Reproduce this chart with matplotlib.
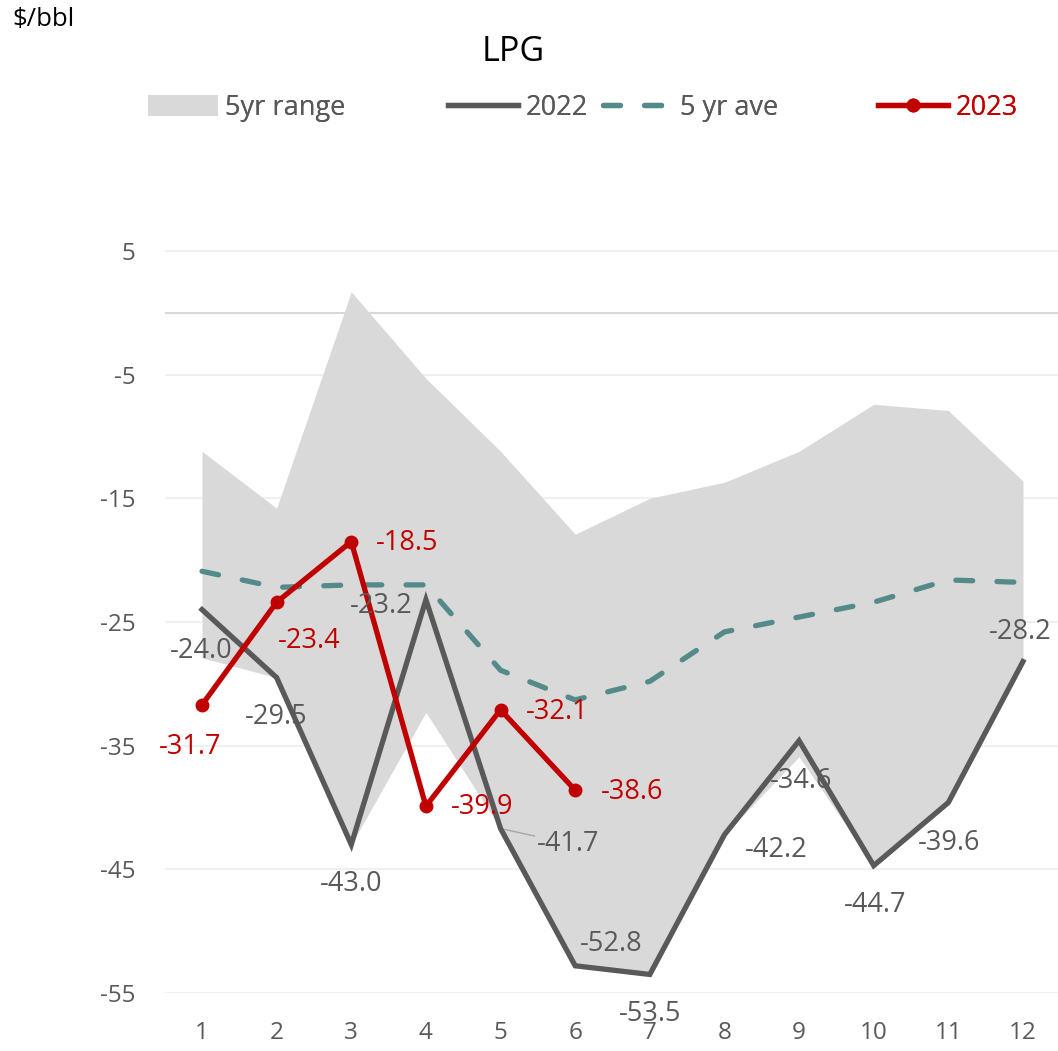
import matplotlib
matplotlib.use("Agg")
import matplotlib.pyplot as plt
from matplotlib.lines import Line2D
from matplotlib.patches import Patch

plt.rcParams['font.family'] = ['Open Sans', 'DejaVu Sans']
plt.rcParams['axes.unicode_minus'] = False

# Monthly LPG crack, $/bbl
months = list(range(1, 13))
month_labels = [str(m) for m in months]
range_high = [-11.2, -15.8, 1.7, -5.3, -11.2, -17.9, -15.0, -13.7, -11.2, -7.4, -7.9, -13.6]
range_low = [-27.9, -29.5, -43.0, -32.3, -41.7, -52.8, -53.5, -42.2, -35.9, -44.7, -39.6, -28.2]
avg_5yr = [-20.9, -22.2, -22.0, -22.0, -28.9, -31.3, -29.8, -25.8, -24.6, -23.4, -21.6, -21.8]
y2022 = [-24.0, -29.5, -43.0, -23.2, -41.7, -52.8, -53.5, -42.2, -34.6, -44.7, -39.6, -28.2]
y2023 = [-31.7, -23.4, -18.5, -39.9, -32.1, -38.6]
y_ticks = [-55, -45, -35, -25, -15, -5, 5]

GREY_TXT = '#595959'
C2022 = '#595959'
CAVG = '#558A8A'
C2023 = '#C00000'
CFILL = '#D9D9D9'

W, H = 1058, 1051
fig = plt.figure(figsize=(W / 100, H / 100), dpi=100)
ax_left, ax_right = 164.7, 1060.3
ax_top, ax_bot = 164.4, 993
ax = fig.add_axes([ax_left / W, 1 - ax_bot / H, (ax_right - ax_left) / W, (ax_bot - ax_top) / H])

ax.set_xlim(0.5, 12.5)
ax.set_ylim(-55, 12)

for t in y_ticks:
    ax.axhline(t, color='#F0F0F0', lw=1.5, zorder=0)
ax.axhline(0, color='#D9D9D9', lw=1.5, zorder=0.5)

ax.fill_between(months, range_low, range_high, color=CFILL, lw=0, zorder=1)
ax.plot(months, y2022, color=C2022, lw=3.8, solid_joinstyle='miter', zorder=3)
ax.plot(months, avg_5yr, color=CAVG, lw=3.8, dashes=(3.2, 4.6), dash_capstyle='round', zorder=4)
ax.plot(months[:len(y2023)], y2023, color=C2023, lw=3.8, marker='o', markersize=9, zorder=5)

for s in ax.spines.values():
    s.set_visible(False)
ax.set_xticks(months)
ax.set_xticklabels(month_labels)
ax.set_yticks(y_ticks)
ax.set_yticklabels([str(t) for t in y_ticks])
ax.tick_params(axis='both', length=0, colors=GREY_TXT, labelsize=17.5)
ax.tick_params(axis='x', pad=20)
ax.tick_params(axis='y', pad=21)

# Data labels (offsets in pixels from each point)
off2022 = [(-1, -41), (0, -39), (0, -39), (-45, -6), (68, -15), (36, 22),
           (0, -40), (52, -15), (2, -40), (1, -39), (1, -40), (-3, 30)]
off2023 = [(-12, -42), (33, -39), (56, -1), (56, -1), (57, -2), (57, -2)]

for i, (v, (dx, dy)) in enumerate(zip(y2022, off2022)):
    kw = {}
    if i == 4:
        kw['arrowprops'] = dict(arrowstyle='-', color='#A6A6A6', lw=1, shrinkA=0, shrinkB=3)
    ax.annotate(f"{v:.1f}", (months[i], v), xytext=(dx, dy), textcoords='offset pixels',
                ha='center', va='center', fontsize=19.5, color=GREY_TXT,
                zorder=6, annotation_clip=False, **kw)
for i, (v, (dx, dy)) in enumerate(zip(y2023, off2023)):
    ax.annotate(f"{v:.1f}", (months[i], v), xytext=(dx, dy), textcoords='offset pixels',
                ha='center', va='center', fontsize=19.5, color=C2023,
                zorder=6, annotation_clip=False)

# Titles
fig.text(12 / W, 1 - 19 / H, "$/bbl", ha='left', va='center', fontsize=18.5, color='black')
fig.text(513 / W, 1 - 52 / H, "LPG", ha='center', va='center', fontsize=24.5, color='black')

# Legend entries
entries = [
    (Patch(facecolor=CFILL, edgecolor='none'), "5yr range", 148, GREY_TXT),
    (Line2D([], [], color=C2022, lw=3.8), "2022", 448, GREY_TXT),
    (Line2D([], [], color=CAVG, lw=3.8, dashes=(3.2, 4.6), dash_capstyle='round'), "5 yr ave", 603, GREY_TXT),
    (Line2D([], [], color=C2023, lw=3.8, marker='o', markersize=9), "2023", 878, C2023),
]
for handle, label, xpx, tcol in entries:
    leg = fig.legend([handle], [label], loc='center left',
                     bbox_to_anchor=(xpx / W, 1 - 108 / H), frameon=False,
                     fontsize=19.5, handlelength=2.6, handleheight=0.8,
                     handletextpad=0.25, borderaxespad=0, borderpad=0)
    for t in leg.get_texts():
        t.set_color(tcol)
    fig.add_artist(leg)

fig.savefig("out.png", dpi=100)
